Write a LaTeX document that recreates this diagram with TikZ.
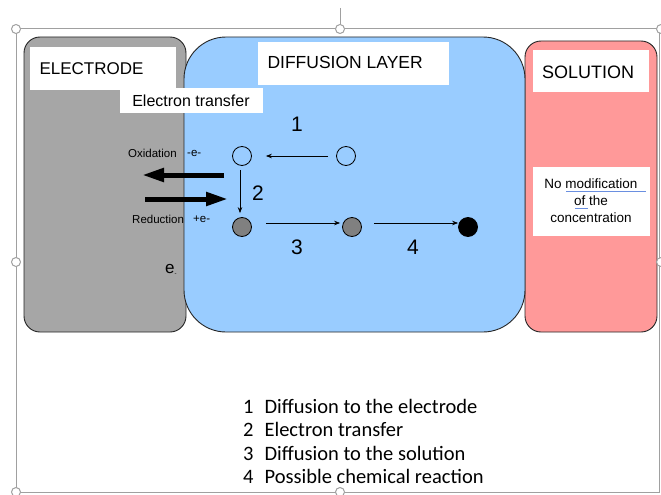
\documentclass[tikz,border=0pt]{standalone}
\usepackage{fontspec}
\setmainfont{Liberation Sans}
\newfontfamily\legendfont{Carlito}
\usetikzlibrary{arrows.meta}
\definecolor{elgray}{HTML}{A6A6A6}
\definecolor{diffblue}{HTML}{99CCFF}
\definecolor{solpink}{HTML}{FF9999}
\definecolor{handlegray}{HTML}{A0A0A0}
\definecolor{squiggle}{HTML}{6A8FE0}
\tikzset{
  zone/.style={draw=black!85, line width=0.9pt},
  label box/.style={fill=white, inner sep=0pt, anchor=north west},
  species/.style={circle, draw=black, line width=0.8pt, minimum size=19pt, inner sep=0pt},
  thin arrow/.style={-{Stealth[length=6pt,width=4.5pt]}, line width=0.7pt},
  thick arrow/.style={-{Triangle[length=22pt,width=13pt]}, line width=5pt},
  stepnum/.style={font=\fontsize{21}{23}\selectfont},
  handle/.style={circle, draw=handlegray, fill=white, line width=1pt, minimum size=9pt, inner sep=0pt},
}
\begin{document}
\begin{tikzpicture}[x=1pt,y=-1pt]
\useasboundingbox (0,0) rectangle (661,495);
% selection frame
\draw[handlegray, line width=1pt] (16,29) rectangle (659,492);
\draw[handlegray, line width=1pt] (340,8) -- (340,29);
% zones
\path[zone, fill=elgray] (24,37) [rounded corners=16pt] rectangle (186,332);
\path[zone, fill=solpink] (525,41) [rounded corners=16pt] rectangle (657,332);
\path[zone, fill=diffblue] (184,37) [rounded corners=42pt] rectangle (525,332);
% label boxes
\node[label box, minimum width=146pt, minimum height=43pt] (elbox) at (30,47) {};
\node[font=\fontsize{17}{20}\selectfont, anchor=west] (eltxt) at (36,69) {ELECTRODE};
\node[label box, minimum width=143pt, minimum height=25pt] (etbox) at (120,88) {};
\node[font=\fontsize{16}{17}\selectfont] (ettxt) at (191,101) {Electron transfer};
\node[label box, minimum width=191pt, minimum height=43pt] (dlbox) at (258,42) {};
\node[font=\fontsize{17.5}{20}\selectfont, anchor=west] (dltxt) at (264,62) {DIFFUSION LAYER};
\node[label box, minimum width=116pt, minimum height=42pt] (solbox) at (533,50) {};
\node[font=\fontsize{18}{20}\selectfont] (soltxt) at (588,72) {SOLUTION};
\node[label box, minimum width=117pt, minimum height=69pt] (nmbox) at (533,167) {};
\node[font=\fontsize{13.5}{17}\selectfont, align=center] (nmtxt) at (591,201) {No modification\\of the\\concentration};
\draw[squiggle, line width=0.8pt] (566,191) -- (646,191);
\draw[squiggle, line width=0.8pt] (575,208) -- (588,208);
% species
\node[species] (ox1) at (242,156) {};
\node[species] (ox2) at (346,156) {};
\node[species, fill=black!50] (red1) at (242,227) {};
\node[species, fill=black!50] (red2) at (352,227) {};
\node[species, fill=black] (prod) at (468,227) {};
% thin arrows
\draw[thin arrow, shorten <=8pt, shorten >=14pt] (ox2.west) -- (ox1.east);
\draw[thin arrow, shorten <=4pt, shorten >=4pt] ([xshift=-2pt]ox1.south) -- ([xshift=-2pt]red1.north);
\draw[thin arrow, shorten <=14pt, shorten >=2pt] ([yshift=4pt]red1.east) -- ([yshift=4pt]red2.west);
\draw[thin arrow, shorten <=12pt, shorten >=0pt] ([yshift=4pt]red2.east) -- ([yshift=4pt]prod.west);
% step numbers
\node[stepnum] (n1) at (297,124) {1};
\node[stepnum] (n2) at (258,193) {2};
\node[stepnum] (n3) at (297,247) {3};
\node[stepnum] (n4) at (413,247) {4};
% thick arrows
\coordinate (oxs) at (224,175);
\coordinate (oxe) at (142,175);
\coordinate (rds) at (145,199);
\coordinate (rde) at (228,199);
\draw[thick arrow] (oxs) -- (oxe);
\draw[thick arrow] (rds) -- (rde);
% small labels
\node[font=\fontsize{11.5}{13}\selectfont, anchor=west, inner sep=0pt] (oxtxt) at (128,153) {Oxidation};
\node[font=\fontsize{11.5}{13}\selectfont, anchor=west, inner sep=0pt] (oxe1) at (187,153) {-e-};
\node[font=\fontsize{11.5}{13}\selectfont, anchor=west, inner sep=0pt] (rdtxt) at (132,219) {Reduction};
\node[font=\fontsize{11.5}{13}\selectfont, anchor=west, inner sep=0pt] (rde1) at (193,219) {+e-};
\node[font=\fontsize{17}{18}\selectfont, anchor=west, inner sep=0pt] (elec) at (165,270) {e\raisebox{-2pt}{\fontsize{6}{6}\selectfont -}};
% legend
\node[font=\legendfont\fontsize{20.5}{23.5}\selectfont, anchor=north west, align=left, inner sep=0pt] (legend) at (243,399)
  {1\hspace{11pt}Diffusion to the electrode\\2\hspace{11pt}Electron transfer\\3\hspace{11pt}Diffusion to the solution\\4\hspace{11pt}Possible chemical reaction};
% handles
\node[handle] (h1) at (16,29) {};
\node[handle] (h2) at (340,29) {};
\node[handle] (h3) at (661,29) {};
\node[handle] (h4) at (16,262) {};
\node[handle] (h5) at (661,262) {};
\node[handle] (h6) at (16,492) {};
\node[handle] (h7) at (340,492) {};
\end{tikzpicture}
\end{document}
